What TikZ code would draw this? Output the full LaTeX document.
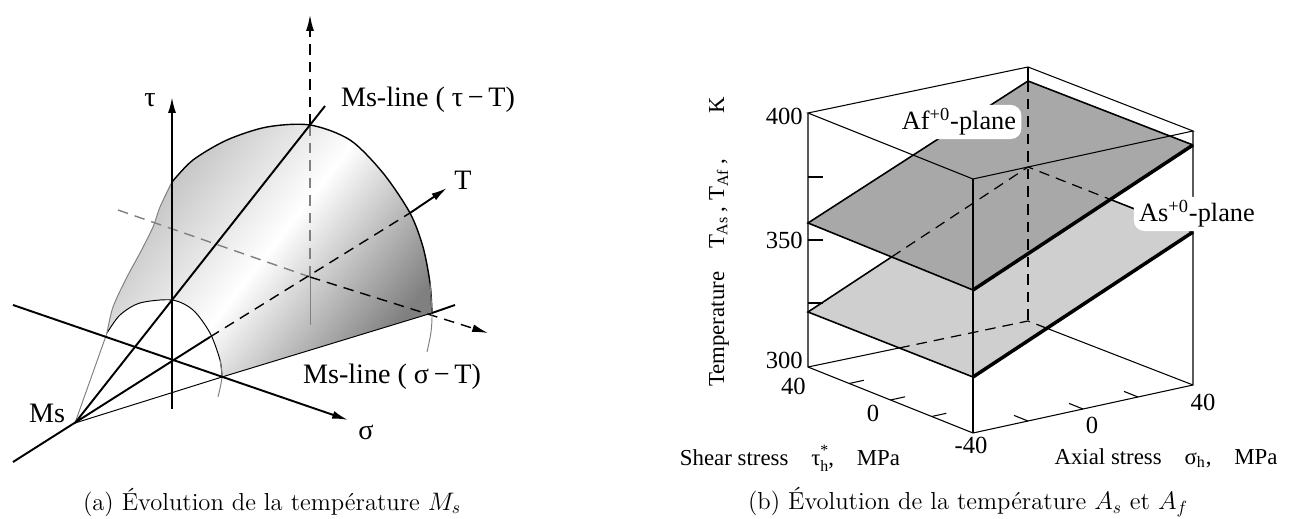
\documentclass[tikz,border=0pt]{standalone}
\usepackage{fontspec}
\newfontfamily\figfont{Liberation Serif}
\usetikzlibrary{arrows.meta, calc}

\begin{document}
\begin{tikzpicture}[x=0.02cm, y=-0.02cm,
    axisline/.style={line width=1.1pt, -{Latex[length=9pt,width=4.5pt]}},
    arcline/.style={line width=0.8pt},
    thinline/.style={line width=0.55pt},
    hidden/.style={line width=0.8pt, dash pattern=on 6pt off 4pt},
    boxedge/.style={line width=0.6pt},
    planeedge/.style={line width=0.9pt},
    frontedge/.style={line width=2pt},
    tickmark/.style={line width=0.6pt},
    lbl/.style={font=\figfont\fontsize{16}{18}\selectfont, inner sep=0pt},
    numlbl/.style={font=\figfont\fontsize{14}{16}\selectfont, inner sep=0pt},
    axlbl/.style={font=\figfont\fontsize{13}{15}\selectfont, inner sep=0pt},
    planelbl/.style={font=\figfont\fontsize{15}{17}\selectfont, fill=white,
                     rounded corners=6pt, inner xsep=3pt, inner ysep=2pt},
    caption/.style={font=\fontsize{14}{16}\selectfont, inner sep=0pt},
  ]
    \useasboundingbox (0,0) rectangle (1292,519);

    % ---------- (a) Ms surface ----------
    \coordinate (Ms) at (75,423);
    \coordinate (C) at (310,277);
    \coordinate (smL) at (107,333);
    \coordinate (smT) at (172,300);
    \coordinate (smR) at (222,377);
    \coordinate (bgR) at (432,313);
    \coordinate (bgT) at (310,125);
    \coordinate (Tin) at (210,337);
    \coordinate (Tout) at (410,213);

    \shade[top color=gray!55, bottom color=gray!100, middle color=white, shading angle=52]
      (smL) -- plot[smooth] coordinates {(107,333) (120,315) (140,303) (172,300) (193,310) (210,333) (220,360) (222,377)}
      -- (bgR) -- plot[smooth] coordinates {(432,313) (430,283) (423,247) (410,213) (383,173) (350,140) (310,125)
         (267,127) (227,140) (193,160) (172,182) (160,207) (153,227) (140,253) (127,277) (113,307) (107,333)} -- cycle;

    % hidden lines
    \draw[hidden, gray] (118,210) -- (C);
    \draw[hidden, gray] (bgT) -- (C);
    \draw[thinline, gray] (C) -- (310,325);
    \draw[hidden, -{Latex[length=9pt,width=4.5pt]}] (bgT) -- (310,15);
    \draw[hidden, -{Latex[length=9pt,width=4.5pt]}] (C) -- (488,333);

    % outlines
    \draw[thinline] plot[smooth] coordinates {(107,333) (120,315) (140,303) (172,300) (193,310) (210,333) (220,360) (222,377)};
    \draw[thinline, gray] plot[smooth] coordinates {(220,360) (222,377) (218,397)};
    \draw[arcline] plot[smooth] coordinates {(432,313) (430,283) (423,247) (410,213) (383,173) (350,140) (310,125)
       (267,127) (227,140) (193,160) (172,182)};
    \draw[thinline, gray] plot[smooth] coordinates {(172,182) (160,207) (153,227) (140,253) (127,277) (113,307) (107,333)};
    \draw[thinline, gray] plot[smooth] coordinates {(430,283) (432,313) (431,332) (427,352)};
    \draw[thinline, gray] (Ms) -- (smL);
    \draw[thinline] (Ms) -- (smR) -- (bgR);
    \draw[line width=1.1pt] (bgR) -- (455,305);
    \draw[line width=1.1pt] (Ms) -- (smT) -- (bgT) -- (325,106);

    % axes
    \draw[line width=1.1pt] (13,462) -- (Tin);
    \draw[hidden] (Tin) -- (Tout);
    \draw[axisline] (Tout) -- (447,188);
    \draw[axisline] (172,409) -- (172,97);
    \draw[axisline] (13,305) -- (348,420);

    \node[lbl] (tau) at (150,100) {τ};
    \node[lbl] (sig) at (366,432) {σ};
    \node[lbl] (T) at (463,180) {T};
    \node[lbl] (ms) at (47,413) {Ms};
    \node[lbl] (lineTau) at (428,100) {Ms-line ( τ\,−\,T)};
    \node[lbl] (lineSig) at (392,377) {Ms-line ( σ\,−\,T)};

    % ---------- (b) As / Af planes ----------
    \coordinate (TL) at (808,113);
    \coordinate (TB) at (1028,67);
    \coordinate (TR) at (1193,131);
    \coordinate (TF) at (973,179);
    \coordinate (BL) at (808,367);
    \coordinate (BB) at (1028,321);
    \coordinate (BR) at (1193,385);
    \coordinate (BF) at (973,433);
    \coordinate (afL) at (808,223);
    \coordinate (afB) at (1028,81);
    \coordinate (afR) at (1193,145);
    \coordinate (afF) at (973,290);
    \coordinate (asL) at (808,312);
    \coordinate (asB) at (1028,167);
    \coordinate (asR) at (1193,232);
    \coordinate (asF) at (973,377);
    \coordinate (x1) at (intersection of asL--asB and afL--afF);
    \coordinate (x2) at (intersection of asB--asR and afF--afR);
    \coordinate (x3) at (intersection of BL--BB and asL--asF);
    \coordinate (x4) at (intersection of BB--BR and asF--asR);

    \fill[gray!38] (asL) -- (asB) -- (asR) -- (asF) -- cycle;
    \fill[gray!68] (afL) -- (afB) -- (afR) -- (afF) -- cycle;

    % hidden edges
    \draw[hidden, line width=0.7pt] (afB) -- (BB);
    \draw[hidden, line width=0.7pt] (x3) -- (BB) -- (x4);
    \draw[hidden, line width=0.7pt] (x1) -- (asB) -- (x2);

    % box
    \draw[boxedge] (TL) -- (TB) -- (TR) -- (TF) -- cycle;
    \draw[boxedge] (TB) -- (afB);
    \draw[boxedge] (TL) -- (BL) -- (BF) -- (BR) -- (TR);
    \draw[boxedge] (TF) -- (BF);
    \draw[boxedge] (BL) -- (x3);
    \draw[boxedge] (x4) -- (BR);

    % planes
    \draw[planeedge] (afF) -- (afL) -- (afB) -- (afR);
    \draw[frontedge] (afF) -- (afR);
    \draw[planeedge] (x1) -- (asL) -- (asF);
    \draw[planeedge] (x2) -- (asR);
    \draw[frontedge] (asF) -- (asR);

    % ticks
    \foreach \ty in {177,240,303}
      \draw[tickmark] (808,\ty) -- (823,\ty);
    \foreach \t in {0.25,0.5,0.75} {
      \draw[tickmark] ($(BL)!\t!(BF)$) -- ++(14.6,-3.2);
      \draw[tickmark] ($(BF)!\t!(BR)$) -- ++(-14,-5.6);
    }

    \node[numlbl, anchor=east] (t400) at (803,116) {400};
    \node[numlbl, anchor=east] (t350) at (803,240) {350};
    \node[numlbl, anchor=east] (t300) at (803,360) {300};
    \node[numlbl, anchor=east] (tau40) at (806,386) {40};
    \node[numlbl] (tau0) at (873,413) {0};
    \node[numlbl] (m40) at (971,445) {-40};
    \node[numlbl] (sig0) at (1092,425) {0};
    \node[numlbl] (sig40) at (1203,402) {40};

    \node[axlbl, rotate=90] (temp) at (719,242)
      {Temperature\quad T\textsubscript{As}\,,\;T\textsubscript{Af}\,,\qquad K};
    \node[axlbl] (shear) at (790,458)
      {Shear stress\quad τ\raisebox{-3.5pt}{\fontsize{9}{7}\selectfont\shortstack[l]{*\\h}},\quad MPa};
    \node[axlbl] (axial) at (1166,458)
      {Axial stress\quad σ\textsubscript{h},\quad MPa};

    \node[planelbl] (afLbl) at (959,122) {Af\textsuperscript{+0}-plane};
    \node[planelbl] (asLbl) at (1197,214) {As\textsuperscript{+0}-plane};

    % captions
    \node[caption] (capA) at (272,502) {(a) Évolution de la température $M_s$};
    \node[caption] (capB) at (968,502) {(b) Évolution de la température $A_s$ et $A_f$};
  \end{tikzpicture}
\end{document}
